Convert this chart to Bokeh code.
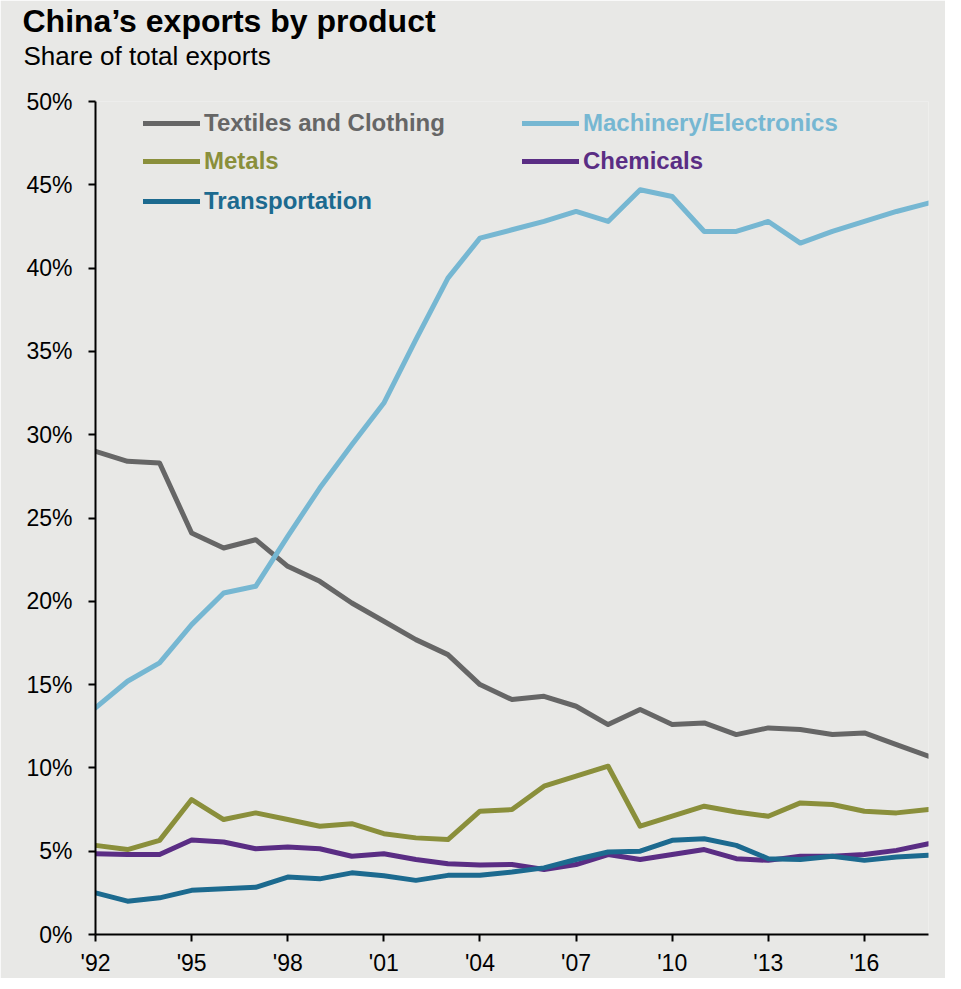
from bokeh.plotting import figure
from bokeh.models import Range1d, FixedTicker, Legend, LegendItem, Title, ColumnDataSource
from bokeh.embed import file_html
from bokeh.resources import INLINE

years = list(range(1992, 2019))
textiles = [29.0, 28.4, 28.3, 24.1, 23.2, 23.7, 22.1, 21.2, 19.9, 18.8, 17.7, 16.8, 15.0, 14.1,
            14.3, 13.7, 12.6, 13.5, 12.6, 12.7, 12.0, 12.4, 12.3, 12.0, 12.1, 11.4, 10.7]
machinery = [13.6, 15.2, 16.3, 18.6, 20.5, 20.9, 23.9, 26.8, 29.4, 31.9, 35.7, 39.4, 41.8, 42.3,
             42.8, 43.4, 42.8, 44.7, 44.3, 42.2, 42.2, 42.8, 41.5, 42.2, 42.8, 43.4, 43.9]
metals = [5.35, 5.1, 5.65, 8.1, 6.9, 7.3, 6.9, 6.5, 6.65, 6.05, 5.8, 5.7, 7.4, 7.5,
          8.9, 9.5, 10.1, 6.5, 7.1, 7.7, 7.35, 7.1, 7.9, 7.8, 7.4, 7.3, 7.5]
chemicals = [4.85, 4.8, 4.8, 5.67, 5.55, 5.15, 5.25, 5.15, 4.7, 4.85, 4.5, 4.25, 4.17, 4.2,
             3.9, 4.2, 4.8, 4.5, 4.8, 5.1, 4.55, 4.45, 4.7, 4.7, 4.8, 5.05, 5.45]
transportation = [2.5, 2.0, 2.2, 2.65, 2.75, 2.83, 3.45, 3.34, 3.7, 3.53, 3.25, 3.55, 3.55, 3.75,
                  4.0, 4.5, 4.95, 5.0, 5.65, 5.75, 5.35, 4.55, 4.5, 4.7, 4.45, 4.65, 4.75]

series_names = ["Textiles and Clothing", "Machinery/Electronics", "Metals", "Chemicals", "Transportation"]
series_values = [textiles, machinery, metals, chemicals, transportation]
series_colors = ["#666666", "#76b7d2", "#8a8f3b", "#5a2d84", "#1c6a8f"]

x_ticks = [1992, 1995, 1998, 2001, 2004, 2007, 2010, 2013, 2016]
x_tick_labels = ["'92", "'95", "'98", "'01", "'04", "'07", "'10", "'13", "'16"]
y_ticks = [0, 5, 10, 15, 20, 25, 30, 35, 40, 45, 50]
y_tick_labels = ["0%", "5%", "10%", "15%", "20%", "25%", "30%", "35%", "40%", "45%", "50%"]

FONT = "Liberation Sans"
BG = "#e8e8e6"

p = figure(width=945, height=978, output_backend="svg", toolbar_location=None,
           x_range=Range1d(1992, 2018), y_range=Range1d(0, 50),
           min_border_left=95, min_border_right=17, min_border_top=101, min_border_bottom=42)
p.background_fill_color = BG
p.border_fill_color = BG
p.outline_line_color = None
p.xgrid.grid_line_color = None
p.ygrid.grid_line_color = None

for ax in (p.xaxis[0], p.yaxis[0]):
    ax.axis_line_color = "black"
    ax.axis_line_width = 2
    ax.major_tick_line_color = "black"
    ax.major_tick_line_width = 2
    ax.major_tick_out = 7
    ax.major_tick_in = 0
    ax.minor_tick_line_color = None
    ax.major_label_text_font = FONT
    ax.major_label_text_font_size = "23px"
    ax.major_label_text_color = "black"

p.xaxis[0].ticker = FixedTicker(ticks=x_ticks)
p.xaxis[0].major_label_overrides = {t: l for t, l in zip(x_ticks, x_tick_labels)}
p.xaxis[0].major_label_standoff = 8
p.yaxis[0].ticker = FixedTicker(ticks=y_ticks)
p.yaxis[0].major_label_overrides = {t: l for t, l in zip(y_ticks, y_tick_labels)}
p.yaxis[0].major_label_standoff = 16

renderers = []
for name, vals, col in zip(series_names, series_values, series_colors):
    src = ColumnDataSource(dict(x=years, y=vals))
    r = p.line("x", "y", source=src, line_color=col, line_width=5, line_join="round", line_cap="round")
    renderers.append(r)

legend_pos = [(48, 797), (427, 797), (48, 759), (427, 759), (48, 719)]
for name, r, col, loc in zip(series_names, renderers, series_colors, legend_pos):
    lg = Legend(items=[LegendItem(label=name, renderers=[r])], location=loc,
                padding=0, margin=0, spacing=0, border_line_color=None,
                background_fill_alpha=0, glyph_width=57, glyph_height=24,
                label_height=24, label_standoff=4,
                label_text_font=FONT, label_text_font_size="24px",
                label_text_font_style="bold", label_text_color=col)
    p.add_layout(lg, "center")

# spacing between subtitle and plot area
spacer = Title(text=" ", text_font=FONT, text_font_size="2px", align="left", standoff=27)
p.add_layout(spacer, "above")
sub = Title(text="Share of total exports", text_font=FONT, text_font_size="26px",
            text_font_style="normal", text_color="black", align="left", offset=-72, standoff=0)
p.add_layout(sub, "above")
ttl = Title(text="China\u2019s exports by product", text_font=FONT, text_font_size="32px",
            text_font_style="bold", text_color="black", align="left", offset=-73, standoff=0)
p.add_layout(ttl, "above")

open("out.html", "w").write(file_html(p, INLINE))
